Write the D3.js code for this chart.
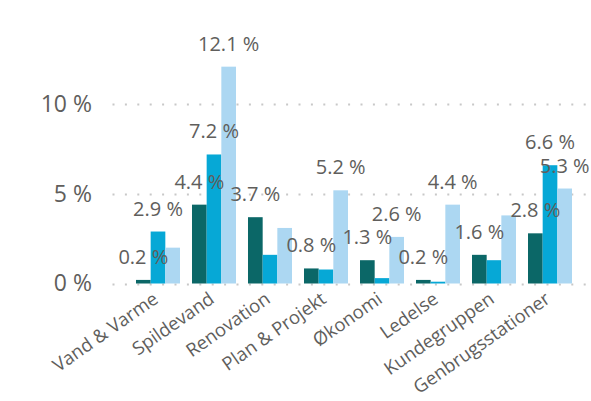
<!DOCTYPE html>
<html>
<head>
<meta charset="utf-8">
<script src="https://cdn.jsdelivr.net/npm/d3@7"></script>
<style>
  html, body { margin: 0; padding: 0; background: #fff; }
  svg { display: block; }
  text { font-family: "Segoe UI", "Open Sans", sans-serif; }
</style>
</head>
<body>
<div id="chart"></div>
<script>
const categories = ["Vand & Varme", "Spildevand", "Renovation", "Plan & Projekt", "Økonomi", "Ledelse", "Kundegruppen", "Genbrugsstationer"];
const seriesNames = ["Serie 1", "Serie 2", "Serie 3"];
const serie1 = [0.2, 4.4, 3.7, 0.84, 1.3, 0.2, 1.6, 2.8];
const serie2 = [2.9, 7.2, 1.6, 0.78, 0.3, 0.1, 1.3, 6.6];
const serie3 = [2.0, 12.1, 3.1, 5.2, 2.6, 4.4, 3.8, 5.3];
const seriesValues = [serie1, serie2, serie3];
const colors = ["#0B6767", "#06A8D6", "#ACD7F2"];
const yTicks = [0, 5, 10];

const W = 591, H = 401;
const svg = d3.select("#chart").append("svg").attr("width", W).attr("height", H);

const y = d3.scaleLinear().domain([0, 13]).range([283.5, 283.5 - 13 * 17.92]);
const x0 = d3.scaleBand().domain(categories).range([130, 578]).paddingInner(0.2143).paddingOuter(0.107);
const x1 = d3.scaleBand().domain(d3.range(seriesNames.length)).range([0, x0.bandwidth()]).padding(0);

// gridlines
const grid = svg.append("g");
grid.selectAll("line").data(yTicks).join("line")
  .attr("x1", 112.5).attr("x2", 591)
  .attr("y1", d => Math.round(y(d)) + 0.5).attr("y2", d => Math.round(y(d)) + 0.5)
  .attr("stroke", "#C8C8C8").attr("stroke-width", 2)
  .attr("stroke-dasharray", "2,10.4");

// y axis
const yAxis = d3.axisLeft(y).tickValues(yTicks).tickFormat(d => d + " %").tickSize(0).tickPadding(0);
const ya = svg.append("g").attr("transform", "translate(92,0)").call(yAxis);
ya.select(".domain").remove();
ya.selectAll("text").attr("font-size", 23).attr("fill", "#605E5C")
  .attr("font-family", "'Segoe UI', 'Open Sans', sans-serif");

// bars
const flat = [];
seriesValues.forEach((vals, s) => vals.forEach((v, i) => flat.push({ s, i, v, cat: categories[i] })));
svg.append("g").selectAll("rect").data(flat).join("rect")
  .attr("x", d => x0(d.cat) + x1(d.s))
  .attr("width", x1.bandwidth())
  .attr("y", d => y(d.v))
  .attr("height", d => y(0) - y(d.v))
  .attr("fill", d => colors[d.s]);

// x axis labels
const xAxis = d3.axisBottom(x0).tickSize(0).tickPadding(0);
const xa = svg.append("g").attr("transform", "translate(0,291)").call(xAxis);
xa.select(".domain").remove();
xa.selectAll("text")
  .attr("font-size", 18.5).attr("fill", "#605E5C")
  .attr("font-family", "'Segoe UI', 'Open Sans', sans-serif")
  .attr("text-anchor", "end")
  .attr("y", 0)
  .attr("dy", "0.71em")
  .attr("transform", "translate(-6,0) rotate(-35)");

// data labels with greedy collision hiding (series order)
const placed = [];
const lg = svg.append("g");
flat.forEach(d => {
  const cx = x0(d.cat) + x1(d.s) + x1.bandwidth() / 2;
  const cy = y(d.v) - 23;
  const t = lg.append("text")
    .attr("x", cx).attr("y", cy).attr("dy", "0.35em")
    .attr("text-anchor", "middle")
    .attr("font-size", 20).attr("fill", "#605E5C")
    .text(d3.format(".1f")(d.v) + " %");
  const w = t.node().getComputedTextLength();
  const box = { x1: cx - w / 2, x2: cx + w / 2, y1: cy - 10, y2: cy + 10 };
  const hit = placed.some(b => box.x1 < b.x2 && box.x2 > b.x1 && box.y1 < b.y2 && box.y2 > b.y1);
  if (hit) t.remove(); else placed.push(box);
});
</script>
</body>
</html>
